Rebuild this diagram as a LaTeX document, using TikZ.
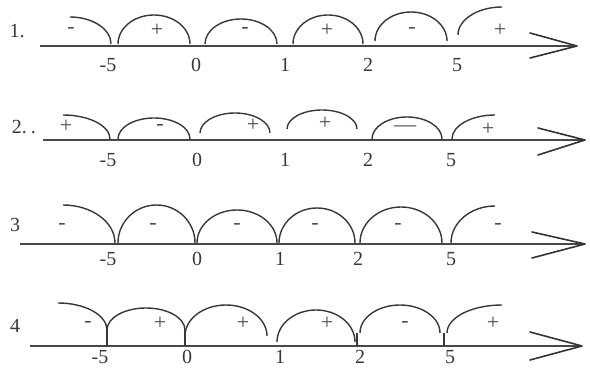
\documentclass[tikz,border=0pt]{standalone}
\usepackage{fontspec}
\setmainfont{Liberation Serif}
% half ellipse: x1, yb, x2, ytop
\newcommand\harc[4]{\pgfmathsetmacro\hrx{(#3-#1)/2}\pgfmathsetmacro\hry{#4-#2}\draw[arcline] (#1,#2) arc[start angle=180,end angle=0,x radius=\hrx pt,y radius=\hry pt];}
% left quarter: x0, ytop, x2, yb
\newcommand\larc[4]{\pgfmathsetmacro\hrx{#3-#1}\pgfmathsetmacro\hry{#2-#4}\draw[arcline] (#1,#2) arc[start angle=90,end angle=0,x radius=\hrx pt,y radius=\hry pt];}
% right quarter: x1, yb, x2, ytop
\newcommand\rarc[4]{\pgfmathsetmacro\hrx{#3-#1}\pgfmathsetmacro\hry{#4-#2}\draw[arcline] (#1,#2) arc[start angle=180,end angle=90,x radius=\hrx pt,y radius=\hry pt];}
\begin{document}
\begin{tikzpicture}[x=1pt,y=1pt,
  axisline/.style={line width=1.8pt, draw=black!72},
  arcline/.style={line width=1.4pt, draw=black!78},
  chev/.style={line width=1.6pt, draw=black!80, line cap=round, line join=round},
  lab/.style={font=\fontsize{20}{20}\selectfont, text=black!78, inner sep=0pt},
  sign/.style={font=\fontsize{22}{22}\selectfont, text=black!70, inner sep=0pt}]
\useasboundingbox (0,0) rectangle (590,369);

% ---------- Row 1 ----------
\node[lab] (r1) at (17,338) {1.};
\coordinate (a1s) at (40,323);
\coordinate (a1e) at (577,323);
\draw[axisline] (a1s) -- (a1e);
\coordinate (c1t) at (530,336);
\coordinate (c1b) at (530,311);
\draw[chev] (c1t) -- (a1e) -- (c1b);
\larc{70}{352}{111}{325}
\harc{118}{325}{190}{354}
\harc{205}{325}{277}{350}
\harc{293}{325}{363}{354}
\harc{375}{328}{447}{357}
\rarc{458}{334}{502}{362}
\node[sign] (s11) at (71,338) {-};
\node[sign] (s12) at (157,339) {+};
\node[sign] (s13) at (245,338) {-};
\node[sign] (s14) at (327,339) {+};
\node[sign] (s15) at (412,338) {-};
\node[sign] (s16) at (500,339) {+};
\node[lab] (t11) at (108,304) {-5};
\node[lab] (t12) at (196,304) {0};
\node[lab] (t13) at (285,304) {1};
\node[lab] (t14) at (368,304) {2};
\node[lab] (t15) at (457,304) {5};

% ---------- Row 2 ----------
\node[lab] (r2) at (24,242) {2.\hspace{4pt}.};
\coordinate (a2s) at (43,229);
\coordinate (a2e) at (585,229);
\draw[axisline] (a2s) -- (a2e);
\coordinate (c2t) at (538,241);
\coordinate (c2b) at (538,214);
\draw[chev] (c2t) -- (a2e) -- (c2b);
\larc{63}{254}{110}{230}
\harc{118}{230}{190}{251}
\harc{200}{236}{270}{256}
\harc{287}{240}{357}{259}
\harc{372}{230}{442}{252}
\rarc{452}{230}{495}{254}
\node[sign] (s21) at (66,243) {+};
\node[sign] (s22) at (160,241) {-};
\node[sign] (s23) at (253,244) {+};
\node[sign] (s24) at (325,246) {+};
\node[sign] (s25) at (405,240) {—};
\node[sign] (s26) at (488,240) {+};
\node[lab] (t21) at (108,209) {-5};
\node[lab] (t22) at (197,209) {0};
\node[lab] (t23) at (285,209) {1};
\node[lab] (t24) at (368,209) {2};
\node[lab] (t25) at (451,209) {5};

% ---------- Row 3 ----------
\node[lab] (r3) at (15,144) {3};
\coordinate (a3s) at (20,125);
\coordinate (a3e) at (585,125);
\draw[axisline] (a3s) -- (a3e);
\coordinate (c3t) at (532,137);
\coordinate (c3b) at (532,111);
\draw[chev] (c3t) -- (a3e) -- (c3b);
\larc{63}{164}{115}{126}
\harc{118}{126}{195}{164}
\harc{197}{126}{277}{159}
\harc{279}{126}{355}{161}
\harc{360}{126}{442}{162}
\rarc{451}{126}{495}{163}
\node[sign] (s31) at (62,142) {-};
\node[sign] (s32) at (153,142) {-};
\node[sign] (s33) at (237,142) {-};
\node[sign] (s34) at (315,142) {-};
\node[sign] (s35) at (398,142) {-};
\node[sign] (s36) at (498,142) {-};
\node[lab] (t31) at (108,110) {-5};
\node[lab] (t32) at (197,110) {0};
\node[lab] (t33) at (280,110) {1};
\node[lab] (t34) at (358,110) {2};
\node[lab] (t35) at (451,110) {5};

% ---------- Row 4 ----------
\node[lab] (r4) at (15,43) {4};
\coordinate (a4s) at (30,23);
\coordinate (a4e) at (582,23);
\draw[axisline] (a4s) -- (a4e);
\coordinate (c4t) at (530,37);
\coordinate (c4b) at (530,9);
\draw[chev] (c4t) -- (a4e) -- (c4b);
\larc{58}{66}{107}{39}
\harc{107}{39}{185}{61}
\harc{185}{33}{267}{64}
\harc{277}{27}{355}{59}
\harc{360}{36}{440}{64}
\rarc{447}{36}{502}{64}
\draw[arcline] (107,39) -- (107,23);
\draw[arcline] (185,39) -- (185,23);
\draw[arcline] (357,36) -- (357,23);
\draw[arcline] (444,36) -- (444,23);
\node[sign] (s41) at (88,44) {-};
\node[sign] (s42) at (160,46) {+};
\node[sign] (s43) at (243,46) {+};
\node[sign] (s44) at (327,46) {+};
\node[sign] (s45) at (405,44) {-};
\node[sign] (s46) at (493,46) {+};
\node[lab] (t41) at (100,12) {-5};
\node[lab] (t42) at (187,12) {0};
\node[lab] (t43) at (280,12) {1};
\node[lab] (t44) at (360,12) {2};
\node[lab] (t45) at (450,12) {5};
\end{tikzpicture}
\end{document}
